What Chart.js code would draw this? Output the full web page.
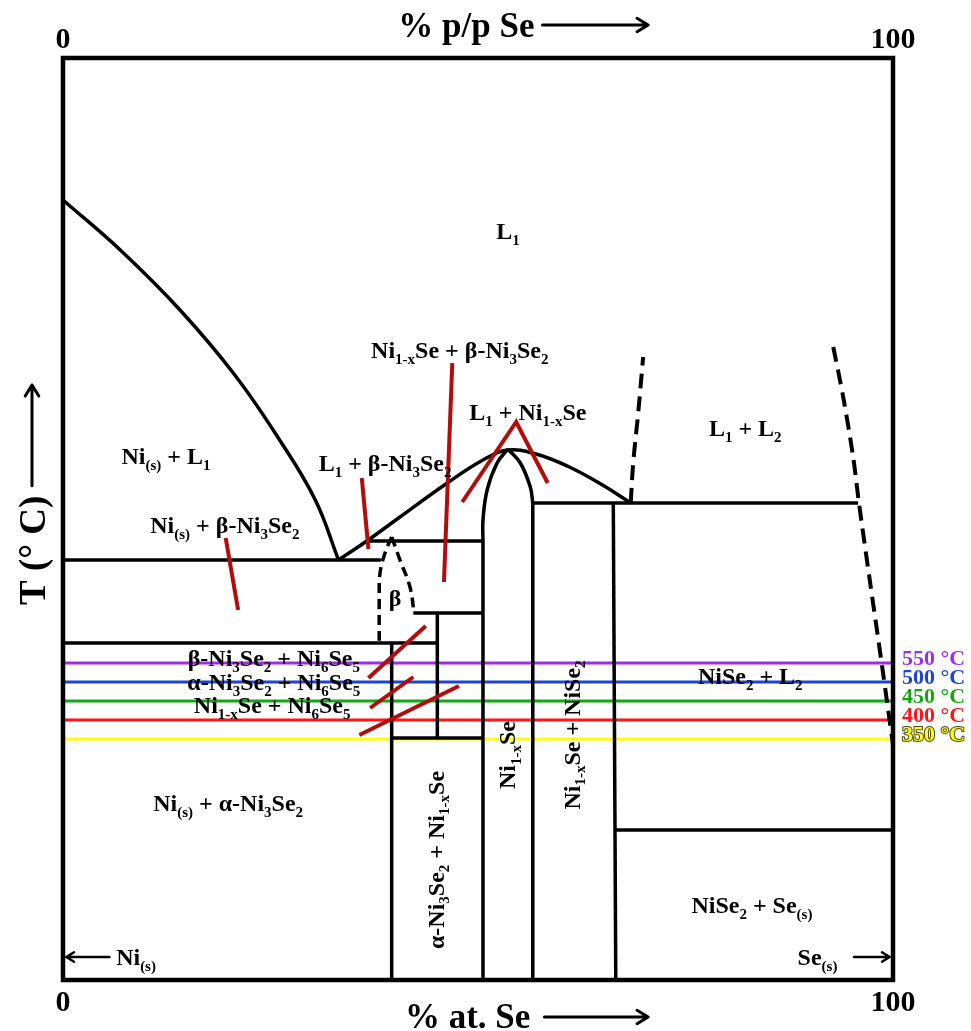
<!DOCTYPE html>
<html>
<head>
<meta charset="utf-8">
<script src="https://cdn.jsdelivr.net/npm/chart.js@4.4.1/dist/chart.umd.min.js"></script>
<style>
  body { margin: 0; background: #fff; }
  canvas { display: block; }
</style>
</head>
<body>
<canvas id="diagram" width="971" height="1031" style="width:971px;height:1031px"></canvas>
<script>
// composition in % Se (x), temperature in arbitrary schematic units (y)
var niLiquidus = [[0, 780], [6.9, 730], [14.1, 670], [20.7, 605], [26.1, 540], [30.4, 480], [33.2, 420]];
var eutecticLine = [[0, 420], [38.3, 420]];
var l1Liquidus = [[33.2, 420], [36.6, 439], [40.6, 463], [46.3, 497], [50.6, 520], [53.6, 530], [57.0, 526], [61.0, 513], [65.0, 495], [68.4, 477]];
var betaTopLine = [[36.6, 439], [50.6, 439]];
var betaLeft = [[39.6, 443], [38.8, 427], [38.2, 407], [38.1, 380], [38.1, 337]];
var betaRight = [[39.6, 443], [40.6, 420], [41.8, 393], [42.3, 367]];
var ni6se5Top = [[42.2, 367], [50.6, 367]];
var ni3se2Line = [[0, 337], [45.1, 337]];
var ni3se2Vert = [[39.6, 337], [39.6, 0]];
var ni6se5Vert = [[45.1, 367], [45.1, 242]];
var ni6se5Bottom = [[39.6, 242], [50.6, 242]];
var nisLeftCurve = [[53.6, 531], [52.3, 517], [51.1, 490], [50.6, 460], [50.6, 439]];
var nisLeftVert = [[50.6, 439], [50.6, 0]];
var nisRightCurve = [[53.6, 531], [55.1, 517], [56.3, 493], [56.6, 477]];
var nisRightVert = [[56.6, 477], [56.6, 0]];
var monotecticLine = [[56.6, 477], [95.8, 477]];
var nise2Vert = [[66.3, 477], [66.6, 0]];
var seEutecticLine = [[66.5, 150], [100, 150]];
var gapLeft = [[68.4, 477], [68.7, 517], [69.3, 567], [69.9, 623]];
var gapRight = [[92.8, 633], [94.0, 583], [95.2, 523], [95.9, 477], [97.2, 400], [98.7, 313], [100, 235]];

var pointers = [
  [[19.6, 442], [21.1, 370]],
  [[36.0, 502], [36.8, 431]],
  [[46.9, 617], [45.9, 398]],
  [[48.1, 478], [54.6, 558], [58.4, 497]],
  [[36.8, 302], [43.7, 354]],
  [[37.0, 272], [42.2, 303]],
  [[35.7, 245], [47.7, 294]]
];

var isoTemps = [550, 500, 450, 400, 350];
var isoLevels = [317, 298, 279, 260, 241];
var isoColors = ['#9d2cf2', '#1c44d8', '#12a812', '#ff1414', '#ffff00'];

var labelText = ['L_{1}', 'Ni_{1-x}Se + β-Ni_{3}Se_{2}', 'L_{1} + Ni_{1-x}Se', 'L_{1} + L_{2}', 'Ni_{(s)} + L_{1}',
  'L_{1} + β-Ni_{3}Se_{2}', 'Ni_{(s)} + β-Ni_{3}Se_{2}', 'β', 'β-Ni_{3}Se_{2} + Ni_{6}Se_{5}', 'α-Ni_{3}Se_{2} + Ni_{6}Se_{5}',
  'Ni_{1-x}Se + Ni_{6}Se_{5}', 'Ni_{(s)} + α-Ni_{3}Se_{2}', 'NiSe_{2} + L_{2}', 'NiSe_{2} + Se_{(s)}',
  'α-Ni_{3}Se_{2} + Ni_{1-x}Se', 'Ni_{1-x}Se', 'Ni_{1-x}Se + NiSe_{2}', 'Ni_{(s)}', 'Se_{(s)}'];
var labelX = [53.6, 47.8, 56.0, 82.2, 12.4, 38.8, 19.5, 40.0, 25.4, 25.4, 25.2, 19.9, 82.8, 83.0, 44.9, 53.5, 61.3, 8.8, 90.9];
var labelY = [749, 630, 568, 552, 524, 517, 455, 382, 322, 298, 275, 177, 304, 75, 120, 225, 245, 23, 23];
var labelRot = [0, 0, 0, 0, 0, 0, 0, 0, 0, 0, 0, 0, 0, 0, 1, 1, 1, 0, 0];

var SERIF = '"Liberation Serif", "Times New Roman", serif';

function line(points, color, width, extra) {
  var ds = {
    data: points.map(function (p) { return { x: p[0], y: p[1] }; }),
    showLine: true,
    pointRadius: 0,
    borderColor: color,
    borderWidth: width,
    fill: false,
    order: 2
  };
  for (var k in extra) ds[k] = extra[k];
  return ds;
}

var datasets = [];
isoLevels.forEach(function (lv, i) {
  datasets.push(line([[0, lv], [100, lv]], isoColors[i], 3, { order: 3 }));
});
[eutecticLine, betaTopLine, ni6se5Top, ni3se2Line, ni3se2Vert, ni6se5Vert, ni6se5Bottom, nisLeftVert,
  nisRightVert, monotecticLine, nise2Vert, seEutecticLine].forEach(function (p) {
  datasets.push(line(p, '#000', 3.5));
});
datasets.push(line(niLiquidus, '#000', 3.5, { tension: 0.4 }));
datasets.push(line(l1Liquidus, '#000', 3.5, { tension: 0.4 }));
datasets.push(line(nisLeftCurve, '#000', 3.5, { tension: 0.4 }));
datasets.push(line(nisRightCurve, '#000', 3.5, { tension: 0.4 }));
datasets.push(line(betaLeft, '#000', 3.5, { tension: 0.4, borderDash: [10, 6] }));
datasets.push(line(betaRight, '#000', 3.5, { tension: 0.4, borderDash: [10, 6] }));
datasets.push(line(gapLeft, '#000', 4, { tension: 0.4, borderDash: [15, 8] }));
datasets.push(line(gapRight, '#000', 4, { tension: 0.3, borderDash: [15, 8] }));
pointers.forEach(function (p) {
  datasets.push(line(p, '#b30c0c', 4, { order: 1 }));
});

function drawRich(ctx, str, x, y, size, rot) {
  var parts = str.split(/(_\{[^}]*\})/).filter(function (s) { return s.length; });
  var subSize = Math.round(size * 0.62);
  var runs = parts.map(function (s) {
    var sub = s.indexOf('_{') === 0;
    var txt = sub ? s.slice(2, -1) : s;
    ctx.font = 'bold ' + (sub ? subSize : size) + 'px ' + SERIF;
    return { t: txt, sub: sub, w: ctx.measureText(txt).width };
  });
  var total = runs.reduce(function (a, r) { return a + r.w; }, 0);
  ctx.save();
  ctx.translate(x, y);
  if (rot) ctx.rotate(-Math.PI / 2);
  ctx.fillStyle = '#000';
  ctx.textBaseline = 'alphabetic';
  ctx.textAlign = 'left';
  var cx = -total / 2;
  runs.forEach(function (r) {
    ctx.font = 'bold ' + (r.sub ? subSize : size) + 'px ' + SERIF;
    ctx.fillText(r.t, cx, size * 0.33 + (r.sub ? size * 0.24 : 0));
    cx += r.w;
  });
  ctx.restore();
  return total;
}

function arrow(ctx, x1, y1, x2, y2, head, width) {
  var a = Math.atan2(y2 - y1, x2 - x1);
  ctx.save();
  ctx.strokeStyle = '#000';
  ctx.lineWidth = width;
  ctx.lineCap = 'round';
  ctx.lineJoin = 'round';
  ctx.beginPath();
  ctx.moveTo(x1, y1);
  ctx.lineTo(x2, y2);
  ctx.moveTo(x2 - head * Math.cos(a - 0.55), y2 - head * Math.sin(a - 0.55));
  ctx.lineTo(x2, y2);
  ctx.lineTo(x2 - head * Math.cos(a + 0.55), y2 - head * Math.sin(a + 0.55));
  ctx.stroke();
  ctx.restore();
}

var decorations = {
  id: 'decorations',
  afterDatasetsDraw: function (chart) {
    var ctx = chart.ctx, a = chart.chartArea;
    ctx.save();
    ctx.strokeStyle = '#000';
    ctx.lineWidth = 4.5;
    ctx.strokeRect(a.left, a.top, a.right - a.left, a.bottom - a.top);
    ctx.restore();
  },
  afterDraw: function (chart) {
    var ctx = chart.ctx, sx = chart.scales.x, sy = chart.scales.y;
    labelText.forEach(function (t, i) {
      drawRich(ctx, t, sx.getPixelForValue(labelX[i]), sy.getPixelForValue(labelY[i]), 24, labelRot[i]);
    });
    // composition arrows at the bottom corners
    var yb = sy.getPixelForValue(23);
    arrow(ctx, sx.getPixelForValue(5.6), yb, sx.getPixelForValue(0.4), yb, 9, 2.5);
    arrow(ctx, sx.getPixelForValue(95.3), yb, sx.getPixelForValue(99.6), yb, 9, 2.5);

    // axis titles
    ctx.save();
    ctx.fillStyle = '#000';
    ctx.textBaseline = 'alphabetic';
    ctx.font = 'bold 35px ' + SERIF;
    var x0 = sx.getPixelForValue(40.4);
    var w = ctx.measureText('% p/p Se').width;
    ctx.fillText('% p/p Se', x0, 37);
    arrow(ctx, x0 + w + 8, 25, sx.getPixelForValue(70.5), 25, 13, 3);
    x0 = sx.getPixelForValue(41.2);
    w = ctx.measureText('% at. Se').width;
    ctx.fillText('% at. Se', x0, 1028);
    arrow(ctx, x0 + w + 14, 1017, sx.getPixelForValue(70.5), 1017, 13, 3);
    ctx.translate(45, sy.getPixelForValue(375));
    ctx.rotate(-Math.PI / 2);
    ctx.font = 'bold 37px ' + SERIF;
    w = ctx.measureText('T (° C)').width;
    ctx.fillText('T (° C)', 0, 0);
    arrow(ctx, w + 10, -13, sy.getPixelForValue(375) - 385, -13, 13, 3);
    ctx.restore();
  }
};

new Chart(document.getElementById('diagram'), {
  type: 'scatter',
  data: { datasets: datasets },
  options: {
    responsive: false,
    animation: false,
    devicePixelRatio: 1,
    layout: { padding: 0 },
    plugins: { legend: { display: false }, tooltip: { enabled: false } },
    scales: {
      x: {
        type: 'linear', position: 'bottom', min: 0, max: 100,
        grid: { display: false, drawTicks: false },
        border: { display: false },
        ticks: { stepSize: 100, padding: 5, color: '#000', font: { family: SERIF, size: 30, weight: 'bold' } },
        afterFit: function (s) { s.height = 51; }
      },
      xTop: {
        type: 'linear', position: 'top', min: 0, max: 100,
        grid: { display: false, drawTicks: false },
        border: { display: false },
        ticks: { stepSize: 100, padding: 0, color: '#000', font: { family: SERIF, size: 30, weight: 'bold' } },
        afterFit: function (s) { s.height = 58; }
      },
      y: {
        type: 'linear', position: 'left', min: 0, max: 922,
        grid: { display: false, drawTicks: false },
        border: { display: false },
        ticks: { display: false },
        afterFit: function (s) { s.width = 63; }
      },
      yIso: {
        type: 'linear', position: 'right', min: 0, max: 922,
        grid: { display: false, drawTicks: false },
        border: { display: false },
        afterBuildTicks: function (s) { s.ticks = isoLevels.map(function (v) { return { value: v }; }); },
        ticks: {
          padding: 9,
          labelOffset: -4,
          callback: function (v, i) { return isoTemps[i] + ' °C'; },
          color: function (c) { return isoColors[c.index]; },
          textStrokeColor: function (c) { return c.index === 4 ? '#4a4a1a' : ''; },
          textStrokeWidth: function (c) { return c.index === 4 ? 2 : 0; },
          font: { family: SERIF, size: 22, weight: 'bold' }
        },
        afterFit: function (s) { s.width = 78; }
      }
    }
  },
  plugins: [decorations]
});
</script>
</body>
</html>
